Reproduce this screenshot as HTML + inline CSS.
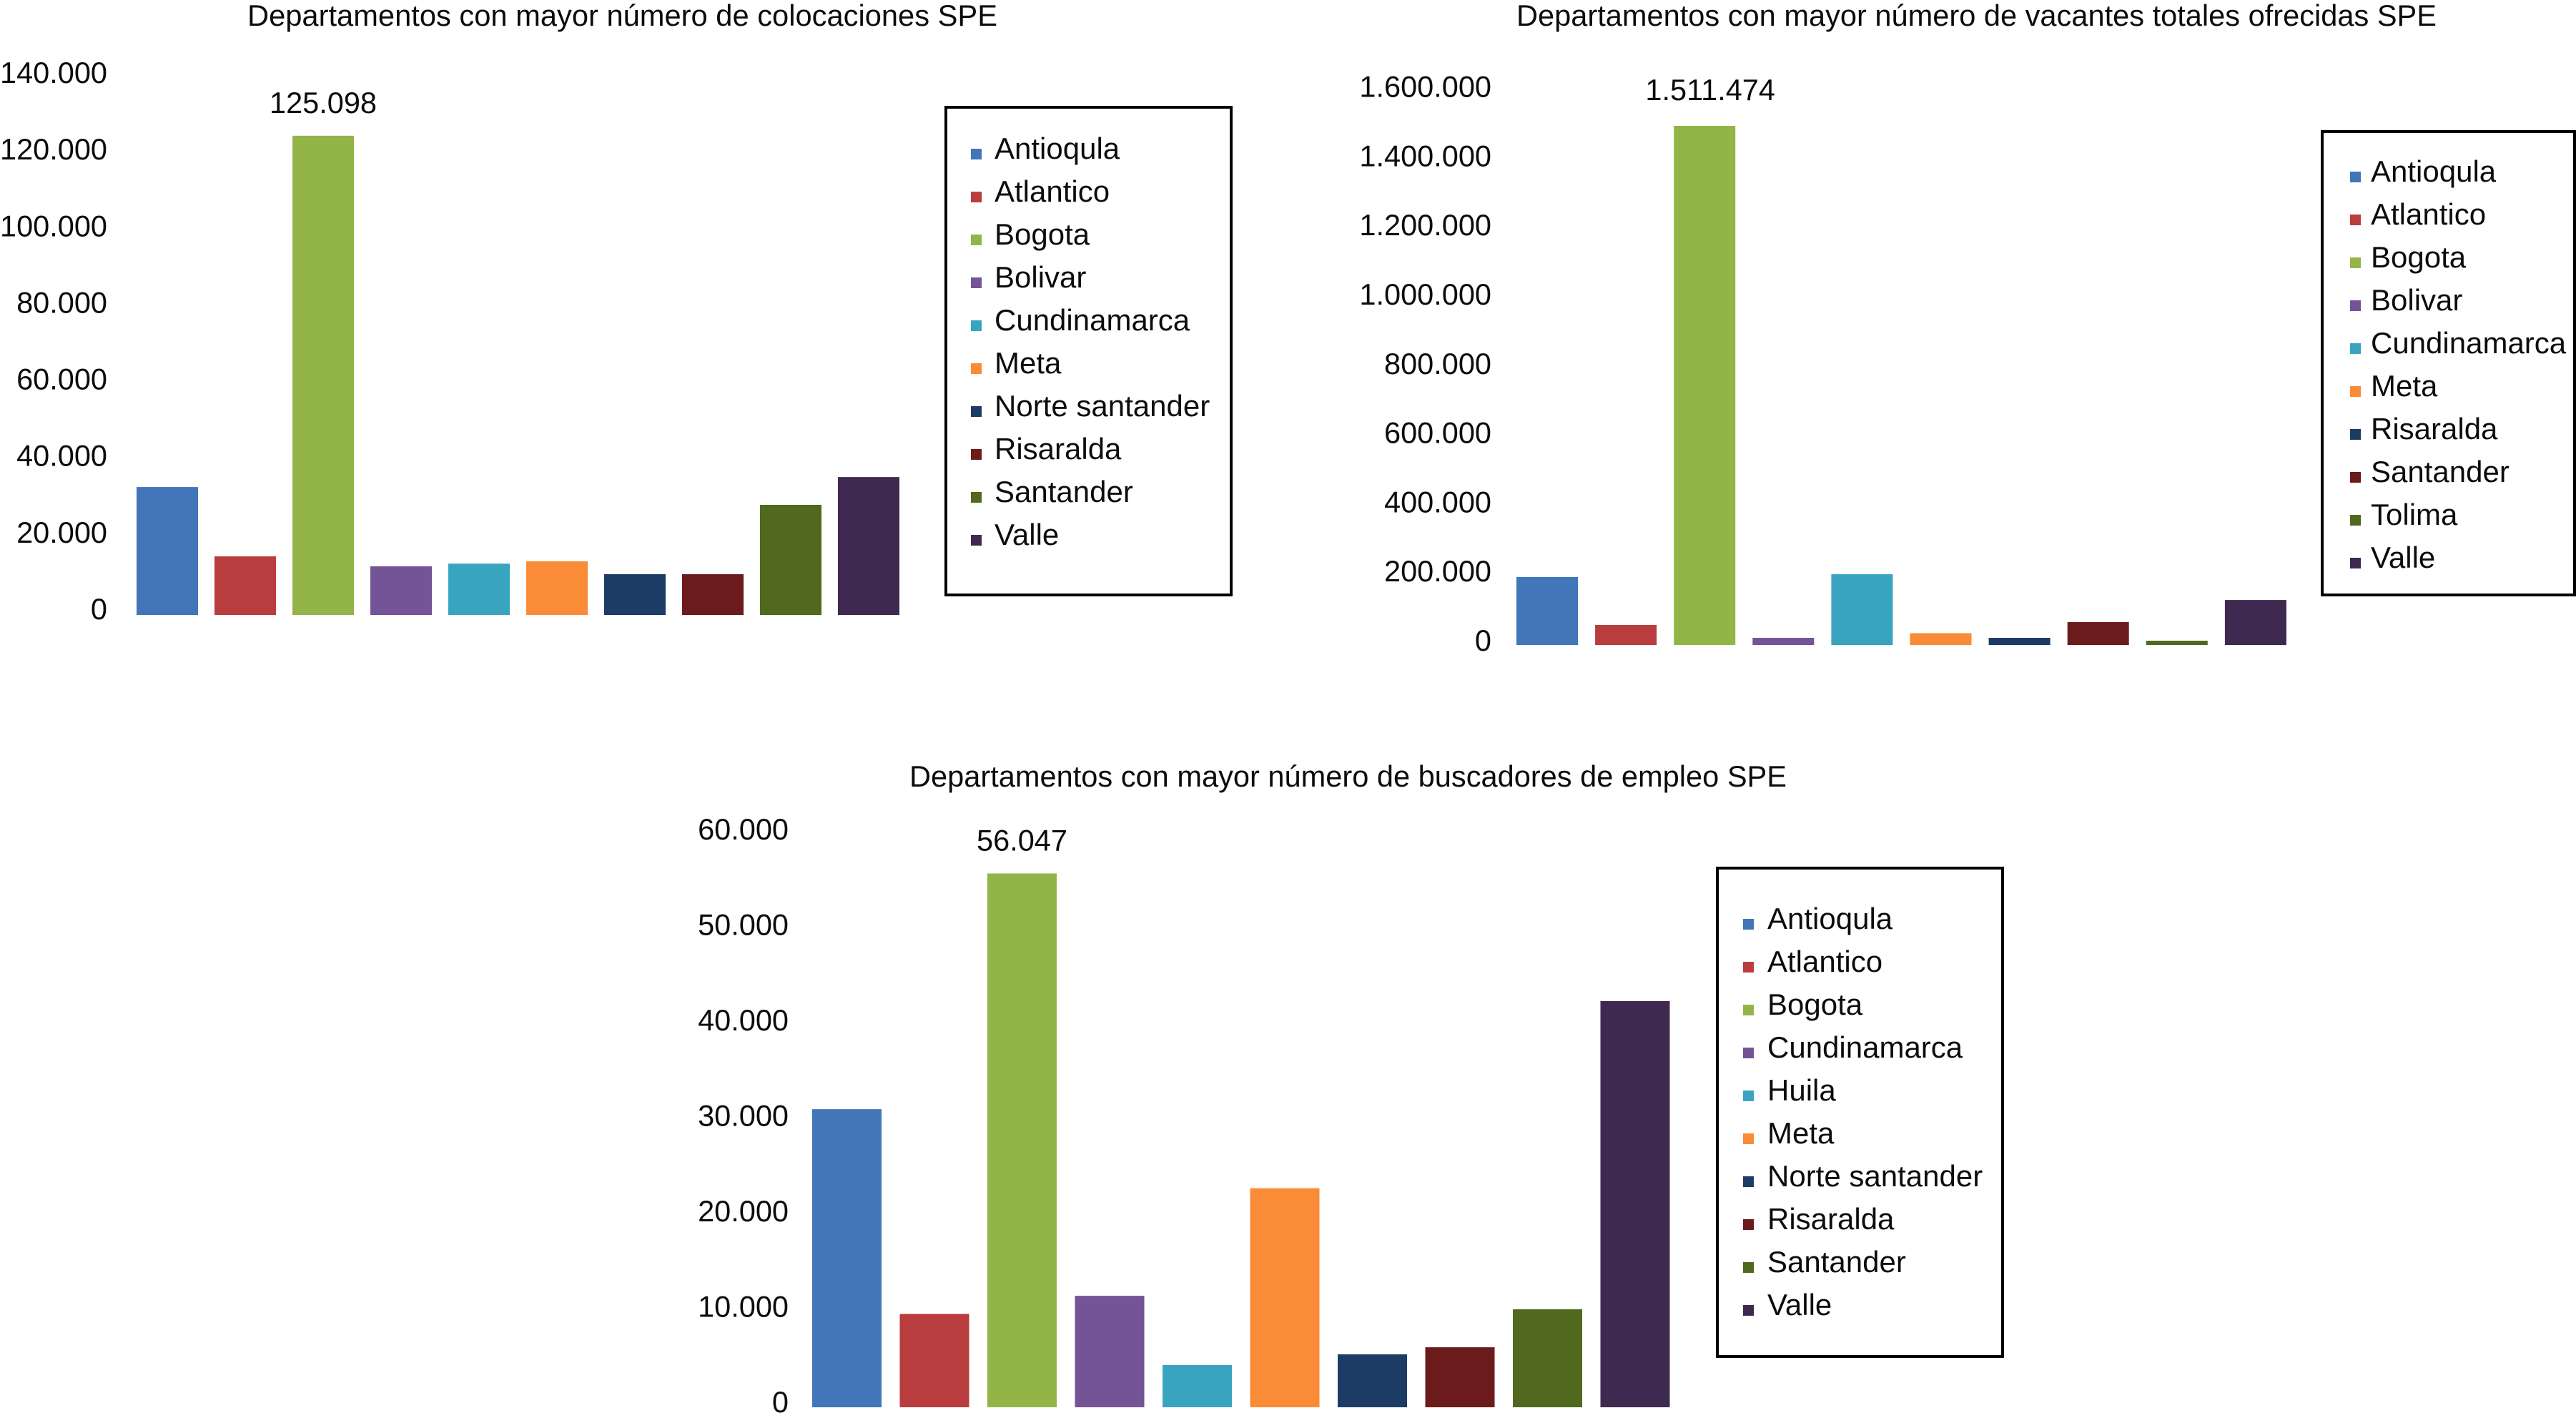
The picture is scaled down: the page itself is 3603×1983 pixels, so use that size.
<!DOCTYPE html>
<html lang="es">
<head>
<meta charset="utf-8">
<title>Departamentos SPE</title>
<style>
  html, body { margin: 0; padding: 0; background: #fff; }
  body { width: 3603px; height: 1983px; overflow: hidden; }
  svg { display: block; }
  text { font-family: "Liberation Sans", sans-serif; fill: #0c0c0c; font-size: 41.5px; }
</style>
</head>
<body>
<svg id="figure" xmlns="http://www.w3.org/2000/svg" width="3603" height="1983" viewBox="0 0 3603 1983">
  <rect x="0" y="0" width="3603" height="1983" fill="#ffffff"/>
  <text x="346" y="36" textLength="1049" lengthAdjust="spacingAndGlyphs">Departamentos con mayor número de colocaciones SPE</text>
  <text x="2121" y="36" textLength="1287" lengthAdjust="spacingAndGlyphs">Departamentos con mayor número de vacantes totales ofrecidas SPE</text>
  <text x="1272" y="1100" textLength="1227" lengthAdjust="spacingAndGlyphs">Departamentos con mayor número de buscadores de empleo SPE</text>
  <rect x="1323" y="150" width="399" height="682" fill="none" stroke="#000" stroke-width="4"/>
  <rect x="3248" y="184" width="353" height="648" fill="none" stroke="#000" stroke-width="4"/>
  <rect x="2402" y="1214" width="399" height="683" fill="none" stroke="#000" stroke-width="4"/>
</svg>
<script>
// Colours shared by every chart, in legend order
const seriesColors = ['#4276b8', '#b93c3e', '#93b548', '#745396', '#39a4c0', '#fa8c37', '#1c3c66', '#6b1b1b', '#51681f', '#3e2a50'];

// Chart 1: colocaciones
const categoriesColocaciones = ['Antioqula', 'Atlantico', 'Bogota', 'Bolivar', 'Cundinamarca', 'Meta', 'Norte santander', 'Risaralda', 'Santander', 'Valle'];
const valuesColocaciones = [33400, 15300, 125098, 12700, 13400, 14000, 10640, 10640, 28750, 36000];
const ticksColocaciones = [0, 20000, 40000, 60000, 80000, 100000, 120000, 140000];
const tickLabelsColocaciones = ['0', '20.000', '40.000', '60.000', '80.000', '100.000', '120.000', '140.000'];
const peakLabelColocaciones = '125.098';

// Chart 2: vacantes
const categoriesVacantes = ['Antioqula', 'Atlantico', 'Bogota', 'Bolivar', 'Cundinamarca', 'Meta', 'Risaralda', 'Santander', 'Tolima', 'Valle'];
const valuesVacantes = [197800, 58300, 1511474, 20800, 206000, 34400, 20800, 66600, 12500, 131000];
const ticksVacantes = [0, 200000, 400000, 600000, 800000, 1000000, 1200000, 1400000, 1600000];
const tickLabelsVacantes = ['0', '200.000', '400.000', '600.000', '800.000', '1.000.000', '1.200.000', '1.400.000', '1.600.000'];
const peakLabelVacantes = '1.511.474';

// Chart 3: buscadores
const categoriesBuscadores = ['Antioqula', 'Atlantico', 'Bogota', 'Cundinamarca', 'Huila', 'Meta', 'Norte santander', 'Risaralda', 'Santander', 'Valle'];
const valuesBuscadores = [31300, 9800, 56047, 11700, 4430, 23000, 5560, 6300, 10290, 42650];
const ticksBuscadores = [0, 10000, 20000, 30000, 40000, 50000, 60000];
const tickLabelsBuscadores = ['0', '10.000', '20.000', '30.000', '40.000', '50.000', '60.000'];
const peakLabelBuscadores = '56.047';

const SVG_NS = 'http://www.w3.org/2000/svg';
const figure = document.getElementById('figure');

function makeAxes(layout) {
  return {
    y: function (v) { return layout.baseline - v * layout.pxPerUnit; },
    tickY: function (v) { return layout.tickBaselineZero - v * layout.tickPxPerUnit; },
    barX: function (i) { return layout.barLeft + i * layout.barPitch; }
  };
}

function drawChart(prefix, categories, values, ticks, tickLabels, peakLabel, layout) {
  const axes = makeAxes(layout);

  ticks.forEach(function (tick, i) {
    const label = document.createElementNS(SVG_NS, 'text');
    
    
    label.setAttribute('x', layout.tickRight);
    label.setAttribute('y', axes.tickY(tick));
    label.setAttribute('text-anchor', 'end');
    label.textContent = tickLabels[i];
    figure.appendChild(label);
  });

  values.forEach(function (value, i) {
    const bar = document.createElementNS(SVG_NS, 'rect');
    
    
    bar.setAttribute('x', axes.barX(i));
    bar.setAttribute('y', axes.y(value));
    bar.setAttribute('width', layout.barWidth);
    bar.setAttribute('height', layout.baseline - axes.y(value));
    bar.setAttribute('fill', seriesColors[i]);
    figure.appendChild(bar);
  });

  const peakIndex = values.indexOf(Math.max.apply(null, values));
  const peak = document.createElementNS(SVG_NS, 'text');
  
  
  peak.setAttribute('x', axes.barX(peakIndex) + layout.barWidth / 2 + layout.peakDx);
  peak.setAttribute('y', axes.y(values[peakIndex]) - layout.peakGap);
  peak.setAttribute('text-anchor', 'middle');
  peak.textContent = peakLabel;
  figure.appendChild(peak);

  categories.forEach(function (name, i) {
    const baseline = layout.legendBaseline + i * layout.legendStep;
    const swatch = document.createElementNS(SVG_NS, 'rect');
    
    
    swatch.setAttribute('x', layout.swatchX);
    swatch.setAttribute('y', baseline - 14);
    swatch.setAttribute('width', 15);
    swatch.setAttribute('height', 15);
    swatch.setAttribute('fill', seriesColors[i]);
    figure.appendChild(swatch);

    const entry = document.createElementNS(SVG_NS, 'text');
    
    
    entry.setAttribute('x', layout.legendTextX);
    entry.setAttribute('y', baseline);
    entry.setAttribute('style', 'font-size:42px');
    entry.textContent = name;
    figure.appendChild(entry);
  });
}

drawChart('colocaciones', categoriesColocaciones, valuesColocaciones, ticksColocaciones, tickLabelsColocaciones, peakLabelColocaciones, {
  baseline: 860, pxPerUnit: 0.005357, tickBaselineZero: 866, tickPxPerUnit: 0.005357,
  tickRight: 150, barLeft: 191, barPitch: 109, barWidth: 86, peakDx: 0, peakGap: 32,
  swatchX: 1358, legendTextX: 1391, legendBaseline: 222, legendStep: 60
});

drawChart('vacantes', categoriesVacantes, valuesVacantes, ticksVacantes, tickLabelsVacantes, peakLabelVacantes, {
  baseline: 902, pxPerUnit: 0.00048033, tickBaselineZero: 910, tickPxPerUnit: 0.000484,
  tickRight: 2086, barLeft: 2121, barPitch: 110.1, barWidth: 86, peakDx: 8, peakGap: 36,
  swatchX: 3287, legendTextX: 3316, legendBaseline: 254, legendStep: 60
});

drawChart('buscadores', categoriesBuscadores, valuesBuscadores, ticksBuscadores, tickLabelsBuscadores, peakLabelBuscadores, {
  baseline: 1968, pxPerUnit: 0.013319, tickBaselineZero: 1975, tickPxPerUnit: 0.01335,
  tickRight: 1103, barLeft: 1136, barPitch: 122.5, barWidth: 97, peakDx: 0, peakGap: 32,
  swatchX: 2438, legendTextX: 2472, legendBaseline: 1299, legendStep: 60
});
</script>
</body>
</html>
